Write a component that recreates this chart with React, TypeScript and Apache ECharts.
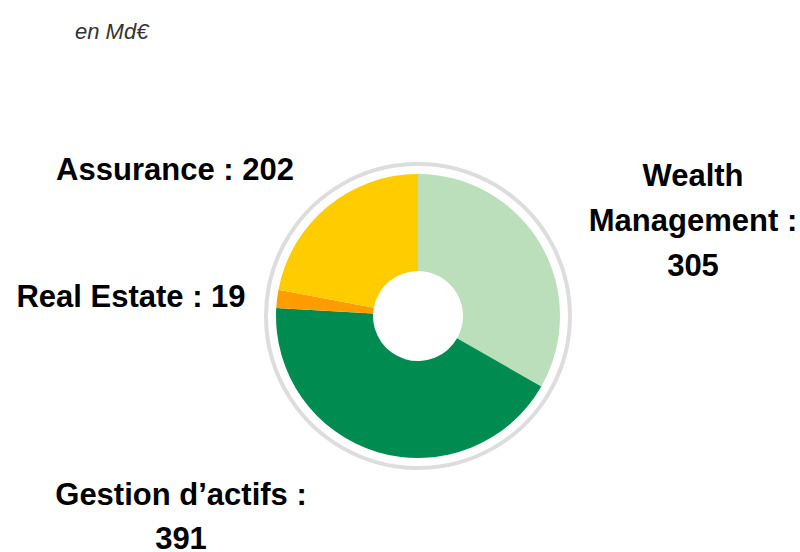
import React, { useEffect, useRef } from "react";
import * as echarts from "echarts";

const categories = ["Wealth Management", "Gestion d’actifs", "Real Estate", "Assurance"];
const values = [305, 391, 19, 202];
const subtitle = "en Md€";

const colors = ["#bbdfbb", "#008c50", "#ff9c00", "#ffcc00"];
// label line breaks per slice (style only)
const labelBreaks = ["Wealth\nManagement :\n", "Gestion d’actifs :", "Real Estate : ", "Assurance : "];
const labelPos = [
  [693, 220],
  [181, 463],
  [131, 296],
  [175, 169],
];

export default function App() {
  const ref = useRef<HTMLDivElement>(null);
  useEffect(() => {
    if (!ref.current) return;
    const chart = echarts.init(ref.current, null, { renderer: "svg" });
    const cx = 418;
    const cy = 316;
    const font = {
      fontFamily: "Liberation Sans, Arial, sans-serif",
      fontWeight: "bold",
      fontSize: 31,
      color: "#000000",
    };
    chart.setOption({
      animation: false,
      backgroundColor: "#ffffff",
      title: {
        text: subtitle,
        left: 70,
        top: 15,
        textStyle: {
          fontFamily: "Liberation Sans, Arial, sans-serif",
          fontStyle: "italic",
          fontWeight: "normal",
          fontSize: 22,
          color: "#333333",
        },
      },
      graphic: [
        {
          type: "circle",
          shape: { cx, cy, r: 152 },
          style: { fill: "none", stroke: "#dddddd", lineWidth: 4 },
          silent: true,
          z: 0,
        },
      ],
      series: [
        {
          type: "pie",
          center: [cx, cy],
          radius: [45, 142],
          startAngle: 90,
          clockwise: true,
          avoidLabelOverlap: false,
          itemStyle: { borderWidth: 0 },
          emphasis: { disabled: true },
          label: {
            show: true,
            position: "outside",
            ...font,
            lineHeight: 45,
            align: "center",
            overflow: "none",
            rich: {
              top: { ...font, lineHeight: 62 },
              bot: { ...font, lineHeight: 26 },
            },
            formatter: (p: any) =>
              p.dataIndex === 1
                ? "{top|" + labelBreaks[1] + "}\n{bot|" + p.value + "}"
                : labelBreaks[p.dataIndex] + p.value,
          },
          labelLine: { show: false },
          labelLayout: (p: any) => ({
            x: labelPos[p.dataIndex][0],
            y: labelPos[p.dataIndex][1],
            align: "center",
            verticalAlign: p.dataIndex === 1 ? "top" : "middle",
          }),
          data: categories.map((name, i) => ({
            name,
            value: values[i],
            itemStyle: { color: colors[i] },
          })),
        },
      ],
    });
    return () => chart.dispose();
  }, []);
  return (
    <div
      ref={ref}
      style={{ position: "fixed", left: 0, top: 0, width: 800, height: 552 }}
    />
  );
}
